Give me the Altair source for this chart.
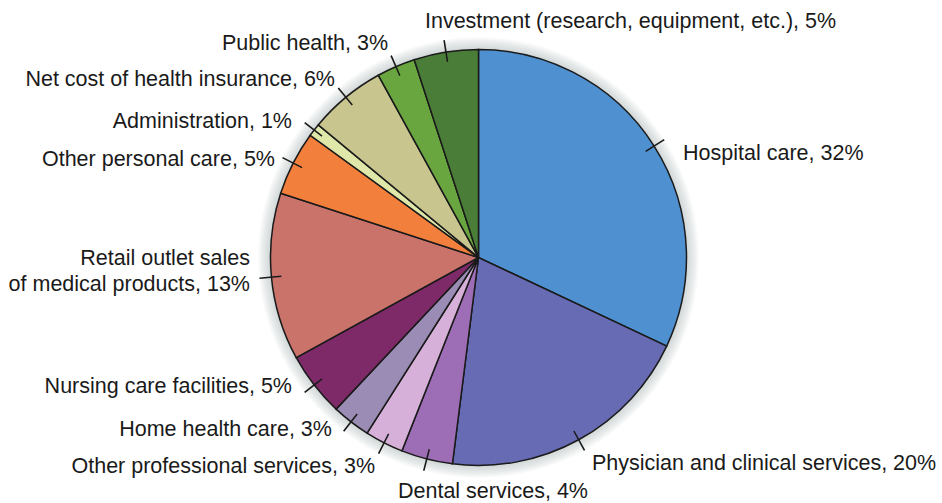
import math
import altair as alt
import pandas as pd

# ---- data ----
categories = [
    "Hospital care", "Physician and clinical services", "Dental services",
    "Other professional services", "Home health care", "Nursing care facilities",
    "Retail outlet sales of medical products", "Other personal care",
    "Administration", "Net cost of health insurance", "Public health",
    "Investment (research, equipment, etc.)",
]
shares = [32, 20, 4, 3, 3, 5, 13, 5, 1, 6, 3, 5]
labels = [
    "Hospital care, 32%", "Physician and clinical services, 20%", "Dental services, 4%",
    "Other professional services, 3%", "Home health care, 3%", "Nursing care facilities, 5%",
    "Retail outlet sales\nof medical products, 13%", "Other personal care, 5%",
    "Administration, 1%", "Net cost of health insurance, 6%", "Public health, 3%",
    "Investment (research, equipment, etc.), 5%",
]
colors = [
    "#4f91d0", "#676bb3", "#9d6db5", "#d6b0d8", "#9a8cb4", "#7f2a68",
    "#c9736b", "#f2803c", "#dfe8a8", "#c8c58f", "#6aa63f", "#4a7d37",
]

# ---- layout (style, not data) ----
CX, CY, R = 478.5, 257.5, 208
TICK_IN, TICK_OUT = 198, 220
FONT = "Liberation Sans"
FS = 21.5
# align, dx, dy relative to the outer end of each slice's tick
label_layout = [
    ("left", 18.8, 20.4),
    ("left", 7.5, 19.7),
    ("left", -25.8, 27.4),
    ("right", -3.6, 19.5),
    ("right", -11.7, 4.7),
    ("right", -12.7, 0.7),
    ("right", -9.5, -13.2),
    ("right", -7.5, 8.4),
    ("right", -12.7, 5.3),
    ("right", -3.3, -2.0),
    ("right", -3.1, -5.6),
    ("left", -19.1, -12.2),
]

df = pd.DataFrame({
    "category": categories,
    "share": shares,
    "label": labels,
    "order": list(range(len(categories))),
})

theta_scale = alt.Scale(domain=[0, 100], range=[0, 2 * math.pi])

base = (
    alt.Chart(df)
    .transform_window(cum="sum(share)", sort=[alt.SortField("order")])
    .transform_calculate(
        start="datum.cum - datum.share",
        mid="datum.cum - datum.share / 2",
        t0="datum.cum - datum.share / 2 - 0.06",
        t1="datum.cum - datum.share / 2 + 0.06",
    )
)

# soft shadow around the pie
shadow_src = alt.Chart(pd.DataFrame({"k": [0]}))
shadows = [
    shadow_src.mark_arc(theta=0, theta2=2 * math.pi, outerRadius=R + k,
                        fill="#7c8290", opacity=0.06, stroke=None)
    .encode(x=alt.value(CX), y=alt.value(CY))
    for k in (2, 4, 6, 8, 10, 12)
]

pie = base.mark_arc(outerRadius=R, stroke="#1a1a1a", strokeWidth=1.5).encode(
    theta=alt.Theta("start:Q", scale=theta_scale, stack=None),
    theta2="cum:Q",
    color=alt.Color("category:N", scale=alt.Scale(domain=categories, range=colors), legend=None),
    x=alt.value(CX), y=alt.value(CY),
)

ticks = base.mark_arc(innerRadius=TICK_IN, outerRadius=TICK_OUT, fill="#1a1a1a").encode(
    theta=alt.Theta("t0:Q", scale=theta_scale, stack=None),
    theta2="t1:Q",
    x=alt.value(CX), y=alt.value(CY),
)

texts = []
for i, (align, dx, dy) in enumerate(label_layout):
    texts.append(
        base.transform_filter(alt.datum.order == i)
        .mark_text(radius=TICK_OUT, align=align, dx=dx, dy=dy, baseline="alphabetic",
                   font=FONT, fontSize=FS, color="#1a1a1a", lineBreak="\n", lineHeight=26)
        .encode(
            theta=alt.Theta("mid:Q", scale=theta_scale, stack=None),
            text="label:N",
            x=alt.value(CX), y=alt.value(CY),
        )
    )

chart = (
    alt.layer(*shadows, pie, ticks, *texts)
    .properties(width=942, height=503, padding=0, autosize="none", background="white")
    .configure_view(stroke=None)
)

chart.save("out.html", embed_options={"renderer": "svg", "actions": False})
